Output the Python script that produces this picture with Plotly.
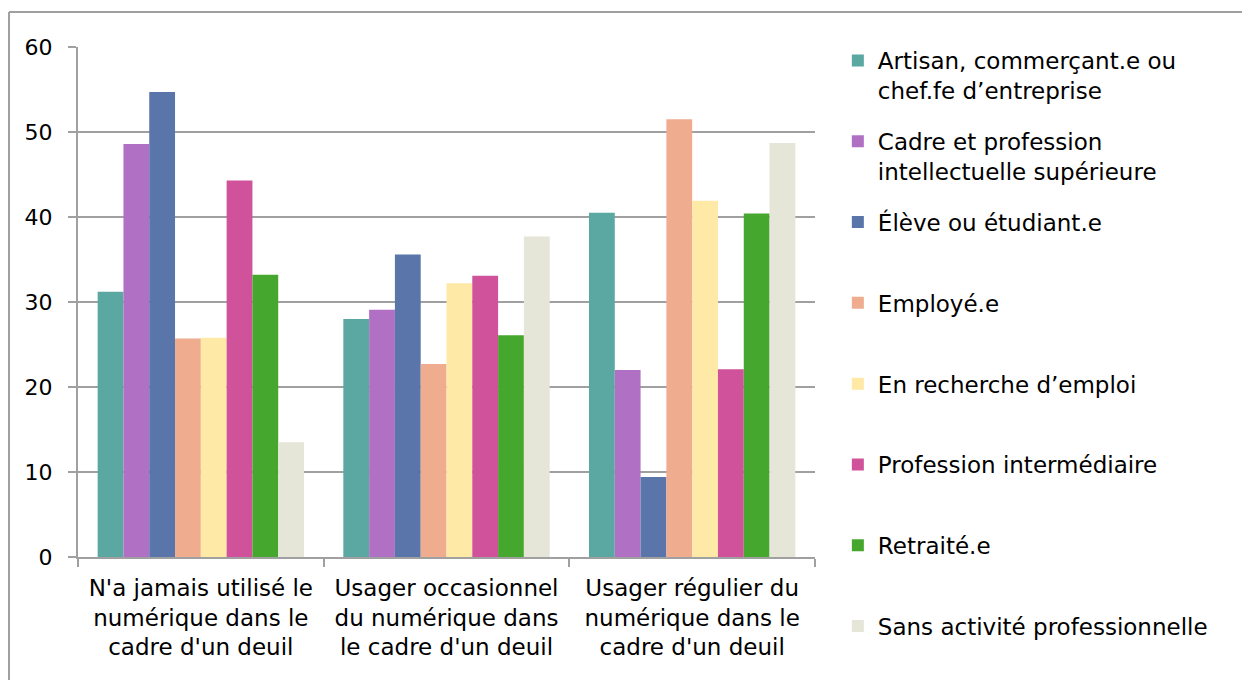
import plotly.graph_objects as go

categories = [
    "N'a jamais utilisé le<br>numérique dans le<br>cadre d'un deuil",
    "Usager occasionnel<br>du numérique dans<br>le cadre d'un deuil",
    "Usager régulier du<br>numérique dans le<br>cadre d'un deuil",
]

series_names = [
    "Artisan, commerçant.e ou<br>chef.fe d’entreprise",
    "Cadre et profession<br>intellectuelle supérieure",
    "Élève ou étudiant.e",
    "Employé.e",
    "En recherche d’emploi",
    "Profession intermédiaire",
    "Retraité.e",
    "Sans activité professionnelle",
]

artisan = [31.2, 28.0, 40.5]
cadre = [48.6, 29.1, 22.0]
eleve = [54.7, 35.6, 9.4]
employe = [25.7, 22.7, 51.5]
recherche = [25.8, 32.2, 41.9]
intermediaire = [44.3, 33.1, 22.1]
retraite = [33.2, 26.1, 40.4]
sans_activite = [13.5, 37.7, 48.7]

values = [artisan, cadre, eleve, employe, recherche, intermediaire, retraite, sans_activite]

colors = ["#5BA8A3", "#B071C4", "#5A75AA", "#EFAC8E", "#FEE9A6", "#CF529A", "#46A72E", "#E5E5D8"]

FONT = "DejaVu Sans"

fig = go.Figure()
for i, (name, vals, col) in enumerate(zip(series_names, values, colors)):
    # pad single-line entries so every legend item has the same height
    label = name if "<br>" in name or i == len(series_names) - 1 else name + "<br> "
    fig.add_trace(
        go.Bar(
            x=categories,
            y=vals,
            name=label,
            legendgroup=str(i),
            marker=dict(color=col, line=dict(width=0)),
        )
    )

# outer chart border (only top and left edges are visible in the frame)
border = dict(type="line", xref="paper", yref="paper", line=dict(color="#A0A0A0", width=2))
fig.add_shape(x0=-0.0936, x1=-0.0936, y0=1.0686, y1=-0.4, **border)
fig.add_shape(x0=-0.0936, x1=1.8, y0=1.0686, y1=1.0686, **border)

fig.update_layout(
    width=1250,
    height=680,
    margin=dict(l=70, r=443, t=39, b=131),
    paper_bgcolor="white",
    plot_bgcolor="white",
    barmode="group",
    bargap=0.16,
    bargroupgap=0,
    font=dict(family=FONT, size=23, color="black"),
    legend=dict(
        x=1.031,
        y=1.0157,
        xanchor="left",
        yanchor="top",
        valign="top",
        tracegroupgap=18,
        maxheight=700,
        font=dict(family=FONT, size=23, color="black"),
    ),
    xaxis=dict(
        type="category",
        tickson="boundaries",
        ticks="outside",
        ticklen=8,
        tickcolor="#A0A0A0",
        tickwidth=2,
        showline=True,
        linecolor="#A0A0A0",
        linewidth=2,
        showgrid=False,
        ticklabelstandoff=9,
        tickfont=dict(family=FONT, size=23),
    ),
    yaxis=dict(
        range=[0, 60],
        tick0=0,
        dtick=10,
        ticks="outside",
        ticklen=8,
        tickcolor="#A0A0A0",
        tickwidth=2,
        showline=True,
        linecolor="#A0A0A0",
        linewidth=2,
        showgrid=True,
        gridcolor="#A0A0A0",
        gridwidth=2,
        zeroline=False,
        ticklabelstandoff=11,
        tickfont=dict(family=FONT, size=22),
    ),
)

fig.write_html("out.html")
